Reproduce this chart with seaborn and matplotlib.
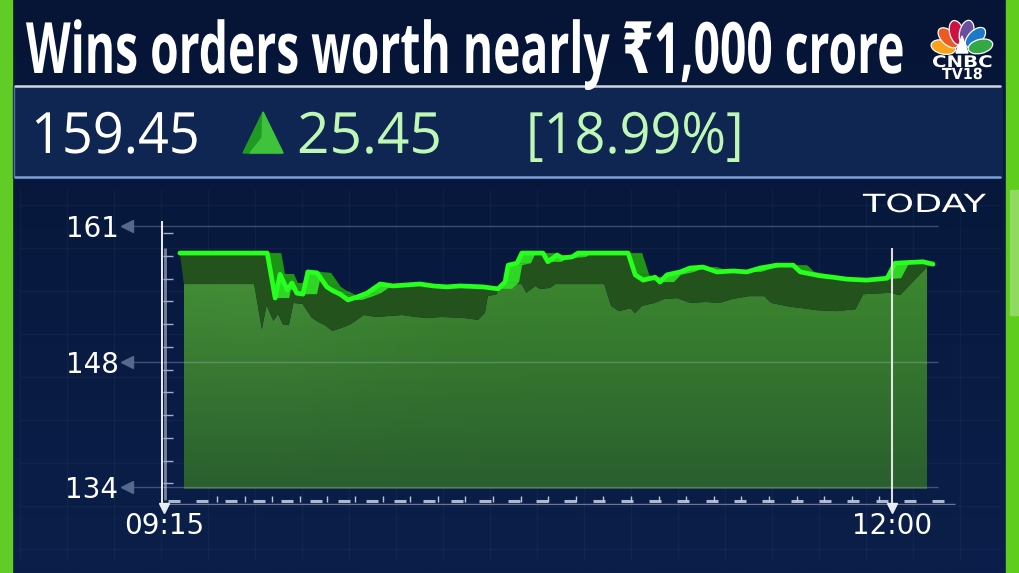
import numpy as np
import seaborn as sns
import matplotlib
matplotlib.use("Agg")
import matplotlib.pyplot as plt
from matplotlib.patches import Polygon, Rectangle, Ellipse
from matplotlib.collections import PolyCollection
from matplotlib.patheffects import AbstractPathEffect
from matplotlib.transforms import Affine2D

# ---------------- data ----------------
minutes = [3.6, 23.4, 25.2, 26.3, 27.9, 29.0, 30.1, 31.5, 32.6, 34.7,
           36.9, 38.3, 39.9, 41.7, 43.7, 46.0, 49.0, 51.9, 58.0, 61.0,
           64.1, 67.1, 72.3, 75.7, 77.3, 78.0, 80.0, 81.1, 85.9, 87.0,
           89.1, 90.2, 92.5, 93.8, 105.2, 106.8, 108.6, 111.3, 112.4, 114.0,
           117.0, 119.2, 122.2, 125.3, 129.0, 132.1, 135.1, 138.9, 142.6, 144.2,
           148.7, 151.6, 154.8, 159.3, 163.9, 165.7, 172.0, 174.3]
price = [158.2, 158.2, 153.55, 156.0, 154.4, 155.1, 154.05, 153.95, 156.25, 156.15,
         154.7, 154.3, 153.95, 153.35, 153.65, 154.05, 155.0, 154.8, 155.0, 154.8,
         154.7, 154.8, 154.7, 154.5, 155.2, 156.95, 157.15, 158.2, 158.2, 157.3,
         158.0, 157.7, 157.8, 158.2, 158.2, 155.95, 155.4, 155.7, 155.2, 155.95,
         156.25, 156.65, 156.75, 156.25, 156.35, 156.25, 156.65, 156.95, 156.95, 156.25,
         155.85, 155.7, 155.5, 155.4, 155.6, 157.15, 157.3, 157.05]
x_tick_minutes = [0, 165]
x_tick_labels = ["09:15", "12:00"]
y_tick_labels = ["161", "148", "134"]
title = "Wins orders worth nearly \u20b91,000 crore"
last_price = "159.45"
change = "25.45"
change_pct = "[18.99%]"
period_label = "TODAY"

# ---------------- layout ----------------
W, H, DPI = 1019, 573, 100
sns.set_style("dark")
plt.rcParams["font.family"] = ["DejaVu Sans"]

NAVY_TOP, NAVY_BOT = np.array([6, 21, 54]) / 255, np.array([11, 31, 74]) / 255
LIME = "#5fcd1e"
LINE = "#27ff1c"

fig = plt.figure(figsize=(W / DPI, H / DPI), dpi=DPI)
bg = fig.add_axes([0, 0, 1, 1], zorder=0)
bg.set_xlim(0, W)
bg.set_ylim(H, 0)
bg.axis("off")

s = np.linspace(0, 1, 200)[:, None, None]
grad = NAVY_TOP * (1 - s) + NAVY_BOT * s
grad = np.repeat(grad, 2, axis=1)
bg.imshow(grad, extent=[0, W, H, 0], aspect="auto", zorder=0)
bg.set_xlim(0, W)
bg.set_ylim(H, 0)

# faint background grid
for gx in np.arange(20, 1000, 47):
    bg.plot([gx, gx], [190, 560], color="white", alpha=0.03, lw=1, zorder=1)
for gy in np.arange(205, 560, 43):
    bg.plot([20, 1000], [gy, gy], color="white", alpha=0.03, lw=1, zorder=1)

# side green bars
bg.add_patch(Rectangle((0, 0), 12.5, H, color="#62cc26", zorder=2))
bg.add_patch(Rectangle((1006, 0), 13, H, color=LIME, zorder=2))
bg.add_patch(Rectangle((1010, 190), 9, 125, color="#8fdb60", zorder=2))

# info panel
bg.add_patch(Rectangle((13, 86), 989, 92, color="#0f2552", zorder=2))
bg.plot([15, 1000], [86, 86], color="#e4ecf7", lw=1.8, alpha=0.9, zorder=3)
bg.plot([15, 1000], [177, 177], color="#86aee6", lw=1.8, alpha=0.9, zorder=3)
bg.plot([14, 14], [86, 177], color="#6f86aa", lw=1, alpha=0.8, zorder=3)


class Scale(AbstractPathEffect):
    """Draws the text glyphs scaled about an anchor point (text stays a Text artist)."""

    def __init__(self, sx, sy, x0, y0):
        super().__init__()
        self.sx, self.sy, self.x0, self.y0 = sx, sy, x0, y0

    def draw_path(self, renderer, gc, tpath, affine, rgbFace=None):
        a = affine + Affine2D().translate(-self.x0, -self.y0).scale(self.sx, self.sy) \
            .translate(self.x0, self.y0)
        renderer.draw_path(gc, tpath, a, rgbFace)


renderer = fig.canvas.get_renderer()


def fit(txt, target_w, vis_fs):
    bb = txt.get_window_extent(renderer)
    ha = txt.get_horizontalalignment()
    x0 = bb.x0 if ha == "left" else (bb.x1 if ha == "right" else 0.5 * (bb.x0 + bb.x1))
    y0 = txt.get_transform().transform(txt.get_position())[1]
    txt.set_path_effects([Scale(target_w / bb.width, vis_fs / txt.get_fontsize(), x0, y0)])


OPEN = ["Open Sans", "DejaVu Sans"]
t_title = bg.text(26, 73, title, ha="left", va="baseline", color="white",
                  fontsize=30, fontweight="bold", family=OPEN, zorder=5)
fit(t_title, 879, 51)

t1 = bg.text(31, 153, last_price, ha="left", va="baseline", color="white",
             fontsize=41, family=OPEN, zorder=5)
fit(t1, 169, 41)
t2 = bg.text(297, 153, change, ha="left", va="baseline", color="#bff7b4",
             fontsize=41, family=OPEN, zorder=5)
fit(t2, 145, 41)
t3 = bg.text(526, 153, change_pct, ha="left", va="baseline", color="#bff7b4",
             fontsize=41, family=OPEN, zorder=5)
fit(t3, 218, 41)

# up triangle
bg.add_patch(Polygon([(243, 153), (263, 112), (283, 153)], closed=True, color="#1f9a20", zorder=4))
bg.add_patch(Polygon([(263, 112), (283, 153), (250, 153), (262, 138)], closed=True,
                     color="#3fc23c", zorder=4))

t_today = bg.text(986, 212, period_label, ha="right", va="baseline", color="white",
                  fontsize=18, zorder=5)
fit(t_today, 123, 18)

# CNBC-TV18 logo
feather_cols = ["#f6a31b", "#ee5a24", "#cf1040", "#6a4f9f", "#1d78c9", "#34a845"]
for ang, col in zip([168, 136, 106, 76, 45, 14], feather_cols):
    r = np.deg2rad(ang)
    bg.add_patch(Ellipse((962 + 19 * np.cos(r), 51 - 19 * np.sin(r)), 25, 14, angle=-ang,
                         facecolor=col, edgecolor="white", lw=0.9, zorder=4))
bg.add_patch(Polygon([(956, 53), (962, 36), (968, 53)], closed=True, color="white", zorder=5))
c1 = bg.text(962.5, 67, "CNBC", ha="center", va="baseline", color="white",
             fontsize=7, fontweight="bold", zorder=5)
fit(c1, 61, 11.5)
c2 = bg.text(962.5, 79, "TV18", ha="center", va="baseline", color="white",
             fontsize=7, fontweight="bold", zorder=5)
fit(c2, 41, 11)

# ---------------- chart axes ----------------
X_LEFT, X_RIGHT, Y_TOP, Y_BOT = 124, 1000, 215, 505
ax = fig.add_axes([X_LEFT / W, 1 - Y_BOT / H, (X_RIGHT - X_LEFT) / W, (Y_BOT - Y_TOP) / H], zorder=1)
ax.set_facecolor("none")
for sp in ax.spines.values():
    sp.set_visible(False)
ax.grid(False)

PPM = 728 / 165          # pixels per minute
PPU = 261 / 27           # pixels per rupee


def px2t(x):
    return (np.asarray(x, dtype=float) - 164) / PPM


def py2v(y):
    return 161 - (np.asarray(y, dtype=float) - 226) / PPU


y_tick_pos = [161, float(py2v(362)), 134]

t = np.array(minutes)
v = np.array(price)

# front face of the 3D area (shifted down/left copy of the line)
shift_t = -(10 + 0.03 * t * PPM) / PPM
ft = np.maximum(t + shift_t, t[0] + 4 / PPM)
fv = v - 31 / PPU
ft = np.append(ft, t[-1] - 6 / PPM)
fv = np.append(fv, v[-1] - 0.3)
base = float(py2v(489))

clip = Polygon(np.column_stack([np.r_[ft[0], ft, ft[-1]], np.r_[base, fv, base]]),
               closed=True, transform=ax.transData, facecolor="none", edgecolor="none")
ax.add_patch(clip)
rows = np.linspace(0, 1, 120)[:, None]
cols_ = np.linspace(0, 1, 200)[None, :]
top_c = np.array([60, 136, 46]) / 255
bot_c = np.array([42, 94, 46]) / 255
img = top_c * (1 - rows[..., None]) + bot_c * rows[..., None]
img = img + 0.035 * np.exp(-((cols_[..., None] - 0.08) / 0.2) ** 2) * (1 - rows[..., None])
img = np.clip(np.broadcast_to(img, (120, 200, 3)), 0, 1)
im = ax.imshow(img, extent=[ft[0], ft[-1], base, fv.max()], aspect="auto", zorder=2)
im.set_clip_path(clip)

# dark top surface band
ax.fill(np.r_[t, ft[::-1]], np.r_[v, fv[::-1]], color="#24521d", lw=0, zorder=3)

# ribbon side walls
dw = 14 / PPM
quads, qcols = [], []
for i in range(len(t) - 2):
    if v[i + 1] == v[i]:
        continue
    quads.append([(t[i], v[i]), (t[i + 1], v[i + 1]), (t[i + 1] + dw, v[i + 1]), (t[i] + dw, v[i])])
    qcols.append("#1d9416" if v[i + 1] < v[i] else "#2fd626")
ax.add_collection(PolyCollection(quads, facecolors=qcols, edgecolors="none", zorder=4))

# gridlines + arrow heads
ax.hlines(y_tick_pos, px2t(128), px2t(938), color="#a8b6cf", alpha=0.35, lw=1, zorder=5)
ax.plot([px2t(127)] * 3, y_tick_pos, ls="none", marker="<", ms=8, color="#56688c",
        zorder=5, clip_on=False)

# price line
sns.lineplot(x=t, y=v, ax=ax, color=LINE, linewidth=3.4, estimator=None, sort=False, zorder=6)
ax.lines[-1].set_solid_joinstyle("round")

# left axis
ax.vlines(px2t(162), py2v(508), py2v(221), color="white", lw=1.3, zorder=5, clip_on=False)
ax.vlines(px2t(165), py2v(500), py2v(248), color="white", lw=2, alpha=0.45, zorder=5)
tick_y = 233 + 22.75 * np.arange(12)
ax.hlines(py2v(tick_y), px2t(163), px2t(173), color="#a0aec6", lw=1, zorder=5)

# bottom dashed axis
dash_x = np.arange(168, 935, 28.3)
ax.hlines(np.full(dash_x.shape, py2v(501)), px2t(dash_x), px2t(dash_x + 12),
          color="#aeb8cc", lw=2.2, zorder=5)
ax.hlines(py2v(504), px2t(162), px2t(955), color="#c8d0e0", alpha=0.5, lw=1, zorder=5)
tick_x = np.arange(217, 880, 27.6)
ax.vlines(px2t(tick_x), py2v(502), py2v(496), color="#c0c8d8", lw=1, zorder=5)

# current time marker
ax.vlines(165, py2v(506), py2v(248), color="white", lw=1.5, alpha=0.85, zorder=7, clip_on=False)
ax.plot([0, 165], [float(py2v(508))] * 2, ls="none", marker="v", ms=7, color="#e8ecf4",
        zorder=7, clip_on=False)

ax.set_xticks(x_tick_minutes)
ax.set_xticklabels(x_tick_labels)
ax.set_yticks(y_tick_pos)
ax.set_yticklabels(y_tick_labels)
ax.tick_params(axis="both", colors="white", length=0, labelsize=20)
ax.tick_params(axis="x", pad=5)
ax.tick_params(axis="y", pad=4)
ax.set_xlabel("")
ax.set_ylabel("")
ax.set_xlim(float(px2t(X_LEFT)), float(px2t(X_RIGHT)))
ax.set_ylim(float(py2v(Y_BOT)), float(py2v(Y_TOP)))

fig.savefig("out.png", dpi=DPI)
